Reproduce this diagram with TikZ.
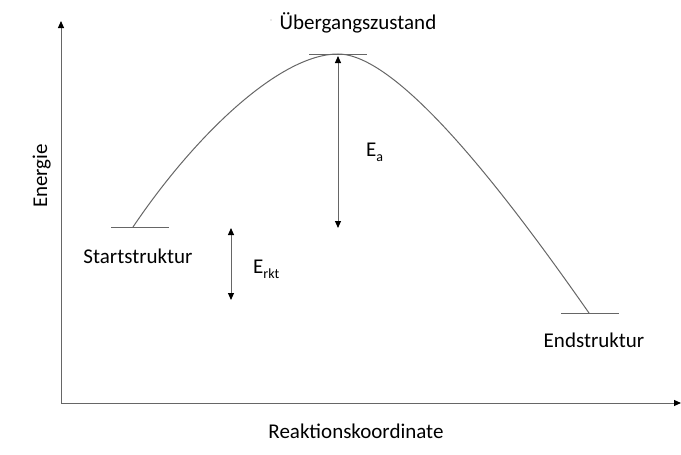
\documentclass[tikz,border=0pt]{standalone}
\usepackage{fontspec}
\setmainfont{Carlito}
\usetikzlibrary{arrows.meta}
\newcommand{\lowsub}[1]{\raisebox{-5pt}{\fontsize{14}{16}\selectfont #1}}
\begin{document}
\begin{tikzpicture}[x=1pt,y=-1pt,
  axisline/.style={draw=black!60, line width=1pt},
  curveline/.style={draw=black!60, line width=1pt},
  lbl/.style={font=\fontsize{21}{25}\selectfont, inner sep=0pt, anchor=base, text=black},
  tipend/.style={-{Triangle[width=6pt,length=7pt,color=black]}},
  tipboth/.style={{Triangle[width=6pt,length=7pt,color=black]}-{Triangle[width=6pt,length=7pt,color=black]}},
]
\useasboundingbox (0,0) rectangle (681,455);
% axes
\coordinate (origin) at (61,403);
\coordinate (ytop) at (61,21);
\coordinate (xend) at (681,403);
\draw[axisline,tipend] (origin) -- (ytop);
\draw[axisline,tipend] (origin) -- (xend);
% levels
\coordinate (s1) at (111,227); \coordinate (s2) at (169,227); \coordinate (sc) at (133,227);
\coordinate (t1) at (309,54);  \coordinate (t2) at (367,54);  \coordinate (tc) at (338,54);
\coordinate (e1) at (561,313); \coordinate (e2) at (619,313); \coordinate (ec) at (589,313);
\draw[curveline] (s1) -- (s2);
\draw[curveline] (t1) -- (t2);
\draw[curveline] (e1) -- (e2);
% reaction curve
\draw[curveline] (sc) .. controls (195,135) and (280,54) .. (tc)
                      .. controls (400,54) and (510,200) .. (ec);
% energy arrows
\coordinate (eaTop) at (338,56);
\coordinate (eaBot) at (338,228);
\draw[curveline,tipboth] (eaTop) -- (eaBot);
\coordinate (erTop) at (231,228);
\coordinate (erBot) at (231,300);
\draw[curveline,tipboth] (erTop) -- (erBot);
% labels
\node[lbl] (ts) at (358,30) {Übergangszustand};
\fill[black!35] (271,20) circle (0.7pt);
\node[lbl] (start) at (138,263) {Startstruktur};
\node[lbl] (end) at (594,347) {Endstruktur};
\node[lbl] (xlabel) at (356,438) {Reaktionskoordinate};
\node[lbl, rotate=90] (ylabel) at (47,176) {Energie};
\node[lbl, anchor=base west] (ea) at (366,156) {E\lowsub{a}};
\node[lbl, anchor=base west] (erkt) at (253,273) {E\lowsub{rkt}};
\end{tikzpicture}
\end{document}
